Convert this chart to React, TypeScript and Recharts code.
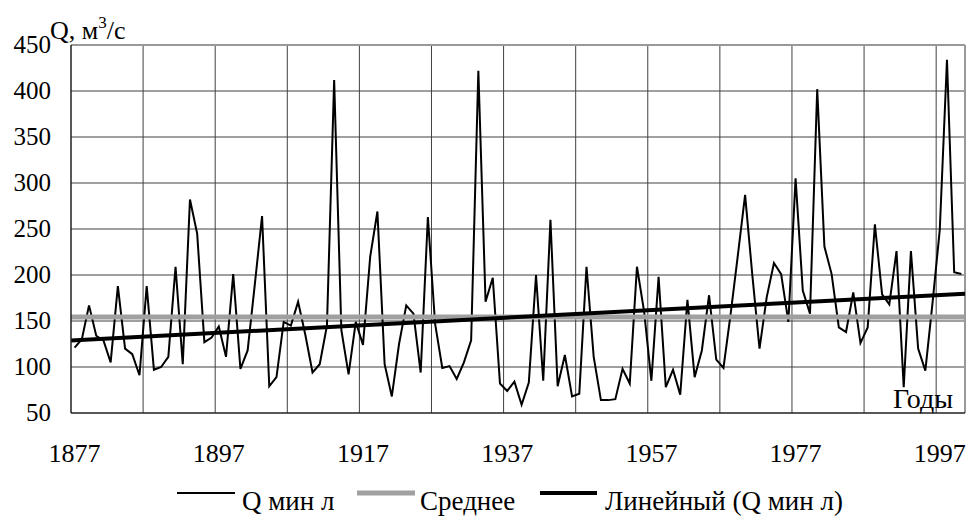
import * as React from "react";
import {
  LineChart,
  Line,
  XAxis,
  YAxis,
  ReferenceLine,
} from "recharts";

// Минимальный летний расход, 1877–2000
const firstYear = 1877;
const qMin = [
  121, 130, 167, 134, 129, 105, 188, 120, 114, 91,
  188, 97, 100, 111, 209, 103, 282, 245, 127, 132,
  144, 111, 201, 98, 118, 190, 264, 79, 89, 149,
  145, 171, 135, 94, 103, 145, 412, 140, 92, 149,
  124, 220, 269, 103, 68, 125, 167, 158, 94, 263,
  147, 99, 101, 87, 105, 129, 422, 171, 197, 82,
  74, 84, 59, 83, 200, 85, 260, 79, 113, 68,
  71, 209, 111, 64, 64, 65, 98, 82, 209, 160,
  85, 198, 78, 97, 70, 173, 89, 118, 178, 108,
  99, 158, 222, 287, 200, 120, 176, 213, 201, 149,
  305, 183, 158, 402, 231, 201, 143, 138, 181, 126,
  143, 255, 179, 168, 226, 78, 226, 120, 96, 170,
  249, 434, 203, 201,
];
const yearLabels = [1877, 1897, 1917, 1937, 1957, 1977, 1997];
const yTicks = [50, 100, 150, 200, 250, 300, 350, 400, 450];
const legendNames = ["Q мин л", "Среднее", "Линейный (Q мин л)"];

const rows = qMin.map((q, i) => ({ year: firstYear + i, q }));
const lastYear = firstYear + qMin.length - 1;
// category boundaries (Excel puts the ticks between categories)
const gridTicks = Array.from({ length: 13 }, (_, k) => firstYear - 0.5 + k * 10);

// mean and least-squares trend, as Excel computes them
const n = qMin.length;
const mean = qMin.reduce((s, v) => s + v, 0) / n;
const xMean = (n - 1) / 2;
let sxy = 0;
let sxx = 0;
qMin.forEach((v, i) => {
  sxy += (i - xMean) * (v - mean);
  sxx += (i - xMean) * (i - xMean);
});
const slope = sxy / sxx;
const trendAt = (yr: number) => mean + slope * (yr - firstYear - xMean);

const FONT = "Liberation Serif";
const GRID = "#404040";
// plot box (chart margins + axis sizes below)
const PLOT = { left: 71, top: 45, right: 965, bottom: 413 };
const yearW = (PLOT.right - PLOT.left) / (lastYear - firstYear + 1);
const yPix = (v: number) => PLOT.top + ((450 - v) / 400) * (PLOT.bottom - PLOT.top);

// texts sit in an svg laid over the chart: inside the chart they came out sans
function TextLayer() {
  const ly = 493;
  const ty = 510;
  return (
    <svg
      width={967}
      height={516}
      style={{ position: "absolute", left: 0, top: 0, pointerEvents: "none" }}
    >
      {yTicks.map((v) => (
        <text key={v} x={51} y={yPix(v) + 8} textAnchor="end" fontFamily={FONT} fontSize={25} fill="#000">
          {v}
        </text>
      ))}
      {yearLabels.map((yr) => (
        <text
          key={yr}
          x={PLOT.left + (yr - firstYear + 0.5) * yearW}
          y={462}
          textAnchor="middle"
          fontFamily={FONT}
          fontSize={26}
          fill="#000"
        >
          {yr}
        </text>
      ))}
      <text x={50} y={39} fontFamily={FONT} fontSize={26} fill="#000">
        <tspan>Q, м</tspan>
        <tspan dy={-11} fontSize={17}>3</tspan>
        <tspan dy={11}>/с</tspan>
      </text>
      <text x={953} y={408} textAnchor="end" fontFamily={FONT} fontSize={28} fill="#000">
        Годы
      </text>

      <line x1={177} x2={235} y1={ly} y2={ly} stroke="#000" strokeWidth={2} />
      <text x={242} y={ty} fontFamily={FONT} fontSize={27} fill="#000">{legendNames[0]}</text>
      <line x1={357} x2={415} y1={ly} y2={ly} stroke="#a0a0a0" strokeWidth={5} />
      <text x={420} y={ty} fontFamily={FONT} fontSize={27} fill="#000">{legendNames[1]}</text>
      <line x1={540} x2={597} y1={ly} y2={ly} stroke="#000" strokeWidth={4} />
      <text x={605} y={ty} fontFamily={FONT} fontSize={27} fill="#000">{legendNames[2]}</text>
    </svg>
  );
}

export default function App() {
  return (
    <div style={{ position: "absolute", left: 0, top: 0, width: 967, height: 516, background: "#fff" }}>
      <LineChart
        width={967}
        height={516}
        data={rows}
        margin={{ top: PLOT.top, right: 967 - PLOT.right, bottom: 36, left: 0 }}
      >
        <XAxis
          dataKey="year"
          type="number"
          domain={[firstYear - 0.5, lastYear + 0.5]}
          ticks={gridTicks}
          tick={false}
          tickSize={7}
          tickLine={{ stroke: GRID }}
          axisLine={{ stroke: "#202020", strokeWidth: 1.5 }}
          height={67}
          interval={0}
        />
        <YAxis
          type="number"
          domain={[50, 450]}
          ticks={yTicks}
          width={PLOT.left}
          tickSize={7}
          interval={0}
          tickLine={{ stroke: GRID }}
          axisLine={{ stroke: "#202020", strokeWidth: 1.5 }}
          tick={false}
          allowDataOverflow
        />
        {gridTicks.slice(1).map((t) => (
          <ReferenceLine key={`v${t}`} x={t} stroke={GRID} strokeWidth={1} />
        ))}
        {yTicks.slice(1, -1).map((t) => (
          <ReferenceLine key={`h${t}`} y={t} stroke={GRID} strokeWidth={1} />
        ))}
        <ReferenceLine y={450} stroke="#999" strokeWidth={2} />
        <ReferenceLine x={lastYear + 0.5} stroke="#999" strokeWidth={2} />
        <Line
          dataKey="q"
          name={legendNames[0]}
          type="linear"
          stroke="#000"
          strokeWidth={2}
          dot={false}
          isAnimationActive={false}
        />
        <ReferenceLine y={mean} stroke="#a0a0a0" strokeWidth={5} />
        <ReferenceLine
          stroke="#000"
          strokeWidth={4}
          segment={[
            { x: firstYear - 0.5, y: trendAt(firstYear - 0.5) },
            { x: lastYear + 0.5, y: trendAt(lastYear + 0.5) },
          ]}
        />
      </LineChart>
      <TextLayer />
    </div>
  );
}
